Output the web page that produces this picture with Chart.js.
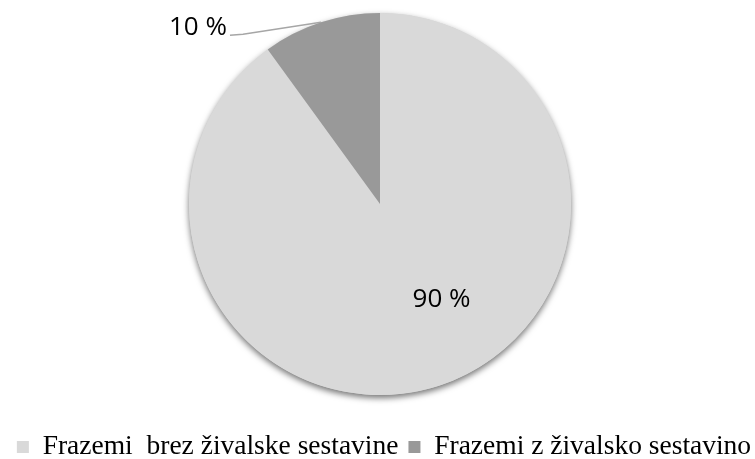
<!DOCTYPE html>
<html>
<head>
<meta charset="utf-8">
<script src="https://cdn.jsdelivr.net/npm/chart.js@4"></script>
<style>
  body { margin: 0; background: #fff; }
</style>
</head>
<body>
<canvas id="pieChart" width="755" height="459"></canvas>
<script>
const categories = ["Frazemi  brez živalske sestavine", "Frazemi z živalsko sestavino"];
const shares = [90, 10];
const sliceLabels = ["90 %", "10 %"];
const sliceColors = ["#d9d9d9", "#999999"];

// soft shadow under the whole pie
const pieShadow = {
  id: 'pieShadow',
  beforeDatasetsDraw(chart) {
    const arc = chart.getDatasetMeta(0).data[0];
    if (!arc) return;
    const ctx = chart.ctx;
    ctx.save();
    ctx.shadowColor = 'rgba(0,0,0,0.55)';
    ctx.shadowBlur = 6;
    ctx.shadowOffsetY = 3;
    ctx.fillStyle = sliceColors[0];
    ctx.beginPath();
    ctx.arc(arc.x, arc.y, arc.outerRadius, 0, Math.PI * 2);
    ctx.fill();
    ctx.restore();
  }
};

// percentage labels, the small slice gets a leader line
const sliceText = {
  id: 'sliceText',
  afterDatasetsDraw(chart) {
    const ctx = chart.ctx;
    const arcs = chart.getDatasetMeta(0).data;
    ctx.save();
    ctx.font = '26px "Open Sans"';
    ctx.fillStyle = '#000';
    ctx.textBaseline = 'middle';

    const a0 = arcs[0];
    ctx.textAlign = 'center';
    ctx.fillText(sliceLabels[0], a0.x + a0.outerRadius * 0.322, a0.y + a0.outerRadius * 0.5);

    const a1 = arcs[1];
    const mid = (a1.startAngle + a1.endAngle) / 2;
    const ex = a1.x + Math.cos(mid) * a1.outerRadius;
    const ey = a1.y + Math.sin(mid) * a1.outerRadius;
    ctx.strokeStyle = '#a6a6a6';
    ctx.lineWidth = 1.5;
    ctx.beginPath();
    ctx.moveTo(ex, ey);
    ctx.lineTo(ex - 78, ey + 12);
    ctx.lineTo(ex - 91, ey + 13);
    ctx.stroke();
    ctx.textAlign = 'right';
    ctx.fillText(sliceLabels[1], ex - 94, ey + 5);
    ctx.restore();
  }
};

new Chart(document.getElementById('pieChart'), {
  type: 'pie',
  data: {
    labels: categories,
    datasets: [{
      data: shares,
      backgroundColor: sliceColors,
      borderWidth: 0
    }]
  },
  options: {
    responsive: false,
    animation: false,
    layout: { padding: { top: 13, bottom: -11.75, left: 5, right: -8 } },
    plugins: {
      tooltip: { enabled: false },
      legend: {
        position: 'bottom',
        title: { display: true, text: ' ', font: { size: 20, lineHeight: 1 }, padding: 4.125 },
        labels: {
          color: '#000',
          font: { family: '"Liberation Serif"', size: 27.5 },
          boxWidth: 12,
          boxHeight: 12,
          padding: 10
        }
      }
    }
  },
  plugins: [pieShadow, sliceText]
});
</script>
</body>
</html>
